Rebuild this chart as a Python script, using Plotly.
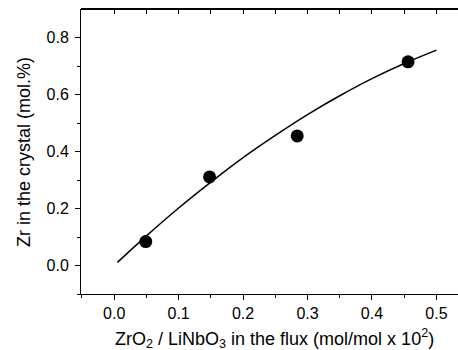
import plotly.graph_objects as go

# Measured data points
x_data = [0.049, 0.148, 0.284, 0.456]
y_data = [0.084, 0.311, 0.455, 0.715]

# Fit curve
x_fit = [0.005, 0.05, 0.10, 0.15, 0.20, 0.25, 0.30, 0.35, 0.40, 0.45, 0.50]
y_fit = [0.011, 0.104, 0.202, 0.293, 0.379, 0.457, 0.530, 0.596, 0.656, 0.709, 0.756]

x_ticks = [0.0, 0.1, 0.2, 0.3, 0.4, 0.5]
y_ticks = [0.0, 0.2, 0.4, 0.6, 0.8]

x_title = "ZrO<sub>2</sub> / LiNbO<sub>3</sub> in the flux (mol/mol x 10<sup>2</sup>)"
y_title = "Zr in the crystal (mol.%)"

FONT = "Liberation Sans, Arial, sans-serif"
XR = [-0.0515, 0.5335]
YR = [-0.1, 0.897]

fig = go.Figure()
fig.add_trace(go.Scatter(x=x_fit, y=y_fit, xaxis="x2", yaxis="y", mode="lines",
                         line=dict(color="black", width=1.5, shape="spline"),
                         hoverinfo="skip", showlegend=False))
fig.add_trace(go.Scatter(x=x_data, y=y_data, mode="markers", marker=dict(color="black", size=13),
                         showlegend=False))

fig.update_layout(
    width=458, height=350,
    margin=dict(l=81, r=0, t=10, b=56),
    paper_bgcolor="white", plot_bgcolor="white",
    font=dict(family=FONT, size=16, color="black"),
    xaxis=dict(range=XR, tickvals=x_ticks, ticktext=[f"{v:.1f}" for v in x_ticks],
               ticks="outside", ticklen=5, tickwidth=1, tickcolor="black",
               minor=dict(dtick=0.05, tick0=0, ticks="outside", ticklen=3, tickcolor="black"),
               showline=True, linecolor="black", linewidth=1, mirror=True,
               showgrid=False, zeroline=False, tickfont=dict(size=16)),
    xaxis2=dict(range=XR, overlaying="x", side="top", anchor="y",
                tick0=0, dtick=0.05, showticklabels=False,
                ticks="inside", ticklen=4, tickwidth=1, tickcolor="black",
                showline=True, linecolor="black", linewidth=1,
                showgrid=False, zeroline=False),
    yaxis=dict(range=YR, tickvals=y_ticks, ticktext=[f"{v:.1f}" for v in y_ticks],
               ticks="outside", ticklen=5, tickwidth=1, tickcolor="black",
               minor=dict(dtick=0.1, tick0=0, ticks="outside", ticklen=3, tickcolor="black"),
               showline=True, linecolor="black", linewidth=1, showgrid=False, zeroline=False,
               ticklabelstandoff=3, tickfont=dict(size=16)),
)

# frame line along the top of the plot area
fig.add_shape(type="line", xref="paper", yref="paper", x0=0, x1=1, y0=1 + 1.5 / 284, y1=1 + 1.5 / 284,
              line=dict(color="black", width=1.2), layer="above")

fig.add_annotation(
    text=y_title, textangle=-90,
    xref="paper", yref="paper", x=0, y=0.5, xshift=-57,
    xanchor="center", yanchor="middle", showarrow=False, font=dict(size=18),
)
fig.add_annotation(
    text=x_title,
    xref="paper", yref="paper", x=(274 - 81) / (458 - 81), y=0, yshift=-30,
    xanchor="center", yanchor="top", showarrow=False, font=dict(size=18),
)

fig.write_html("out.html", config={"displayModeBar": False},
               post_script="document.body.style.margin='0';document.body.style.overflow='hidden';")
